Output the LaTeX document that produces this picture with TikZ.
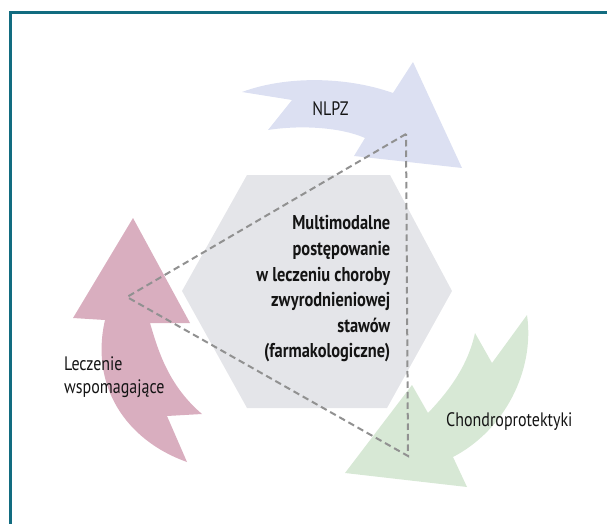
\documentclass[tikz,border=0pt]{standalone}
\usepackage{fontspec}
\setmainfont{PT Sans}[FakeStretch=0.82]

\definecolor{frameteal}{RGB}{18,108,128}
\definecolor{hexgrey}{RGB}{228,229,233}
\definecolor{bluearrow}{RGB}{220,224,242}
\definecolor{pinkarrow}{RGB}{217,174,191}
\definecolor{greenarrow}{RGB}{215,232,213}
\definecolor{linkgrey}{RGB}{145,145,145}
\definecolor{labeltext}{RGB}{20,20,20}

\begin{document}
\begin{tikzpicture}[x=1pt,y=-1pt,
  frameline/.style={draw=frameteal, line width=3pt, line join=miter},
  linkline/.style={draw=linkgrey, line width=2pt, dash pattern=on 6.5pt off 4pt},
  lbl/.style={inner sep=0pt, font=\fontsize{19.5}{23}\selectfont, text=labeltext},
  core/.style={inner sep=0pt, align=right, font=\fontsize{20}{25.6}\selectfont\bfseries, text=labeltext}
]
\useasboundingbox (0,0) rectangle (607,524);

% frame (open to the right and bottom)
\draw[frameline] (10.5,524) -- (10.5,12.5) -- (607,12.5);

% curved arrows of the cycle
\fill[bluearrow] (242,92) .. controls (285,76) and (345,76) .. (393,93)
  -- (413,62) -- (462,168) -- (354,156) -- (365,138)
  .. controls (340,127) and (300,125) .. (268,130) -- (292,100) -- cycle;
\fill[pinkarrow] (133,218) -- (190,323) -- (150,323)
  .. controls (158,350) and (168,385) .. (202,414) -- (167,416) -- (187,462)
  .. controls (125,440) and (90,385) .. (105,320) -- (73,318) -- cycle;
\fill[greenarrow] (345,473) -- (412,385) -- (428,413)
  .. controls (450,390) and (468,365) .. (475,333) -- (492,363) -- (527,315)
  .. controls (535,370) and (505,430) .. (453,457) -- (467,487) -- cycle;

% central hexagon
\fill[hexgrey] (182,291) -- (247,175) -- (390,175) -- (452,291) -- (387,408) -- (247,408) -- cycle;

% dashed triangle linking the three arrows
\coordinate (ttop) at (406,134);
\coordinate (tleft) at (127,297);
\coordinate (tbottom) at (408,456);
\draw[linkline] (ttop) -- (tleft) -- (tbottom) -- cycle;

% texts
\node[core, anchor=north east] (centre) at (390.5,215.5)
  {Multimodalne\\postępowanie\\w leczeniu choroby\\zwyrodnieniowej\\stawów\\(farmakologiczne)};
\node[lbl, anchor=center] (nlpz) at (330.5,108.5) {NLPZ};
\node[lbl, anchor=base west] (chondro) at (446,426) {Chondroprotektyki};
\node[lbl, anchor=north west, align=left] (wspom) at (64,356) {Leczenie\\wspomagające};
\end{tikzpicture}
\end{document}
